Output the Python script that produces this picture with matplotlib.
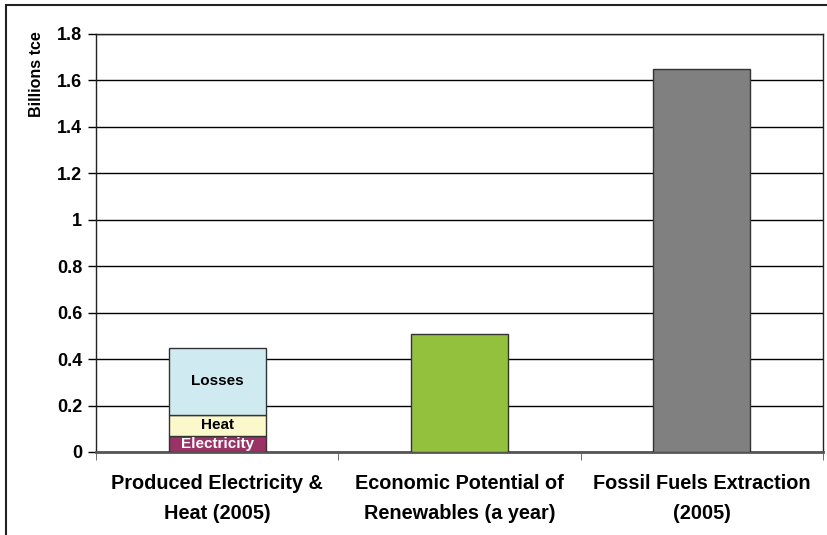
import numpy as np
import matplotlib
matplotlib.use('Agg')
import matplotlib.pyplot as plt
from matplotlib.patches import Rectangle

plt.rcParams['font.family'] = ['Liberation Sans', 'DejaVu Sans']
plt.rcParams['font.weight'] = 'bold'

# ── Data (billions tce) ──────────────────────────────────
categories = ['Produced Electricity &\nHeat (2005)',
              'Economic Potential of\nRenewables (a year)',
              'Fossil Fuels Extraction\n(2005)']
stack_labels = ['Electricity', 'Heat', 'Losses']
stack_values = [0.07, 0.09, 0.29]          # first bar, bottom to top
single_values = [0.51, 1.65]                # second and third bars
yticks = [0, 0.2, 0.4, 0.6, 0.8, 1, 1.2, 1.4, 1.6, 1.8]

stack_colors = ['#993366', '#FBF8CC', '#CFEBF1']
stack_text = ['white', 'black', 'black']
single_colors = ['#93C13E', '#808080']

fig = plt.figure(figsize=(8.28, 5.35), dpi=100)
ax = fig.add_axes([96 / 828, 1 - 452 / 535, (823 - 96) / 828, (452 - 34) / 535])

# outer chart frame
fig.patches.append(Rectangle((6.5 / 828, -0.05), 1.1, 1 - 4.5 / 535 + 0.05,
                             transform=fig.transFigure, fill=False,
                             edgecolor='#222222', linewidth=1.5, zorder=0))

x = np.arange(len(categories))
width = 0.4

# stacked first bar
bottom = 0
for val, lab, col, tcol in zip(stack_values, stack_labels, stack_colors, stack_text):
    ax.bar(x[0], val, width, bottom=bottom, color=col,
           edgecolor='#333333', linewidth=1, zorder=3)
    ax.text(x[0], bottom + val / 2, lab, ha='center', va='center',
            fontsize=11, fontweight='bold', color=tcol, zorder=4)
    bottom += val

ax.bar(x[1:], single_values, width, color=single_colors,
       edgecolor='#333333', linewidth=1, zorder=3)

ax.set_xlim(-0.5, len(categories) - 0.5)
ax.set_ylim(0, 1.8)
ax.set_yticks(yticks)
ax.set_yticklabels([f'{t:g}' for t in yticks], fontsize=13, fontweight='bold')
ax.yaxis.grid(True, color='black', linewidth=1, zorder=0)
ax.set_axisbelow(True)

ax.set_xticks(x)
ax.set_xticklabels(categories, fontsize=14.3, fontweight='bold', linespacing=1.7)
ax.tick_params(axis='x', length=0, pad=16)
ax.set_xticks(np.arange(len(categories) + 1) - 0.5, minor=True)
ax.tick_params(axis='x', which='minor', length=6, color='#555555')
ax.tick_params(axis='y', length=6, width=1, pad=4)

# axis title sits at the top of the value axis
ax.set_ylabel('Billions tce', fontsize=11.5, fontweight='bold')
ax.yaxis.set_label_coords(-0.072, 0.905)

for s in ['left', 'right', 'top']:
    ax.spines[s].set_color('#222222')
    ax.spines[s].set_linewidth(1)
ax.spines['bottom'].set_color('#555555')
ax.spines['bottom'].set_linewidth(2)

fig.savefig('out.png', dpi=100, facecolor='white')
